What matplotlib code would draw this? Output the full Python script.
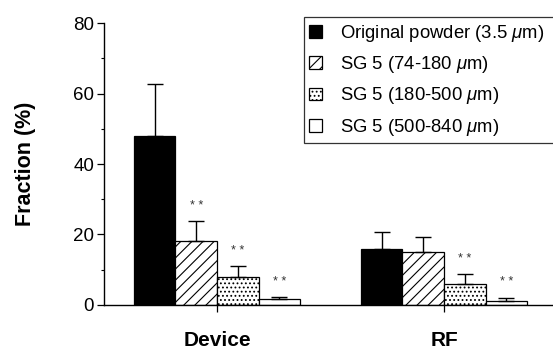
import matplotlib
matplotlib.use("Agg")
import matplotlib.pyplot as plt
import numpy as np

plt.rcParams['font.family'] = ['Liberation Sans', 'DejaVu Sans']
plt.rcParams['mathtext.fontset'] = 'custom'
plt.rcParams['mathtext.rm'] = 'Liberation Sans'
plt.rcParams['mathtext.it'] = 'Liberation Sans:italic'
plt.rcParams['hatch.linewidth'] = 0.8

groups = ["Device", "RF"]
series = ["Original powder (3.5 $\\mathit{\\mu}$m)", "SG 5 (74-180 $\\mathit{\\mu}$m)",
          "SG 5 (180-500 $\\mathit{\\mu}$m)", "SG 5 (500-840 $\\mathit{\\mu}$m)"]
means = [[48.0, 16.0], [18.2, 14.9], [7.9, 5.9], [1.6, 1.1]]
errs = [[14.8, 4.7], [5.6, 4.5], [3.2, 2.9], [0.7, 1.0]]
signif = [[False, False], [True, False], [True, True], [True, True]]
y_ticks = [0, 20, 40, 60, 80]

faces = ["black", "white", "white", "white"]
hatches = [None, "///", "....", None]

fig = plt.figure(figsize=(5.53, 3.55), dpi=100)
ax = fig.add_axes([0.188, 0.141, 0.812, 0.794])

x = np.arange(len(groups))
width = 0.183
offsets = (np.arange(len(series)) - 1.5) * width
for i in range(len(series)):
    xs = x + offsets[i]
    ax.bar(xs, means[i], width, color=faces[i], edgecolor="black",
           linewidth=0.9, hatch=hatches[i], label=series[i], zorder=2)
    ax.errorbar(xs, means[i], yerr=[[0] * len(groups), errs[i]], fmt="none",
                ecolor="black", elinewidth=1.0, capsize=6, capthick=1.0, zorder=3)
    for j in range(len(groups)):
        if signif[i][j]:
            ax.text(xs[j], means[i][j] + errs[i][j] + 2.6, "* *", ha="center",
                    va="bottom", fontsize=9, color="#333333")

ax.set_xlim(-0.498, 1.48)
ax.set_ylim(0, 80)
ax.set_yticks(y_ticks)
ax.set_yticks([10, 30, 50, 70], minor=True)
ax.tick_params(axis="y", which="major", direction="out", length=5, width=0.9,
               labelsize=13.5, pad=2)
ax.tick_params(axis="y", which="minor", direction="out", length=2.5, width=0.8)
ax.set_xticks(x)
ax.set_xticklabels(groups, fontsize=15, fontweight="bold")
ax.tick_params(axis="x", direction="out", length=5, width=0.9, pad=14)
ax.set_ylabel("Fraction (%)", fontsize=15.5, fontweight="bold", labelpad=27)

for side in ("top", "right"):
    ax.spines[side].set_visible(False)
for side in ("left", "bottom"):
    ax.spines[side].set_linewidth(1.0)

leg = ax.legend(loc="upper left", bbox_to_anchor=(0.445, 1.021, 0.6, 0),
                mode="expand", fontsize=13.3,
                frameon=True, fancybox=False, edgecolor="black",
                handlelength=0.68, handleheight=0.68, handletextpad=1.0,
                labelspacing=0.56, borderpad=0.3, borderaxespad=0)
leg.get_frame().set_linewidth(0.9)

fig.savefig("out.png", dpi=100)
